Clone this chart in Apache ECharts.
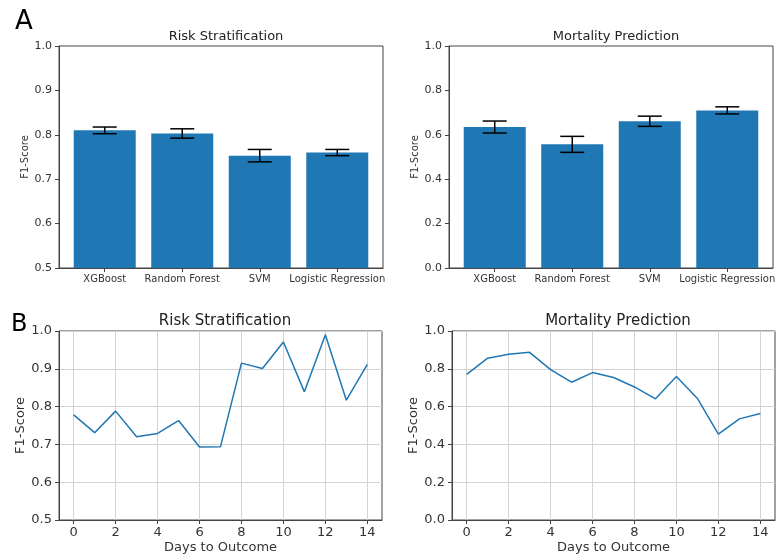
<!DOCTYPE html>
<html><head><meta charset="utf-8">
<script src="https://cdn.jsdelivr.net/npm/echarts@6/dist/echarts.min.js"></script>
<style>html,body{margin:0;padding:0;background:#fff}#c{width:779px;height:556px}</style>
</head><body><div id="c"></div>
<script>
// ---- data ----
const models = ['XGBoost', 'Random Forest', 'SVM', 'Logistic Regression'];
const riskF1 = [0.810, 0.803, 0.753, 0.760];
const riskErr = [0.0075, 0.0105, 0.014, 0.007];
const mortF1 = [0.635, 0.557, 0.661, 0.710];
const mortErr = [0.027, 0.036, 0.023, 0.016];
const days = [0, 1, 2, 3, 4, 5, 6, 7, 8, 9, 10, 11, 12, 13, 14];
const riskDaily = [0.778, 0.731, 0.788, 0.720, 0.729, 0.763, 0.693, 0.694, 0.915, 0.901, 0.971, 0.839, 0.990, 0.817, 0.912];
const mortDaily = [0.771, 0.856, 0.877, 0.887, 0.796, 0.729, 0.780, 0.754, 0.704, 0.641, 0.759, 0.643, 0.454, 0.535, 0.563];
const modelTicks = [0, 1, 2, 3];
const dayTicks = [0, 2, 4, 6, 8, 10, 12, 14];

const FONT = 'DejaVu Sans';
const AX = '#444';
const BLUE = '#1f77b4';

const chart = echarts.init(document.getElementById('c'), null, {renderer: 'canvas'});

const grids = [
  {left: 59, top: 46, width: 324, height: 222},
  {left: 449, top: 46, width: 324, height: 222},
  {left: 59, top: 331, width: 323, height: 189},
  {left: 452, top: 331, width: 323, height: 189}
].map(g => Object.assign({show: true, borderColor: AX, borderWidth: 1, backgroundColor: 'transparent', containLabel: false}, g));

function barX(gi) {
  return {
    gridIndex: gi, type: 'value', min: -0.59, max: 3.59,
    axisLine: {show: true, onZero: false, lineStyle: {color: AX}},
    axisTick: {show: true, length: 4, customValues: modelTicks, lineStyle: {color: AX}},
    axisLabel: {customValues: modelTicks, formatter: v => models[Math.round(v)], fontFamily: FONT, fontSize: 10, color: '#333', margin: 6},
    splitLine: {show: false}
  };
}
function dayX(gi) {
  return {
    gridIndex: gi, type: 'value', min: -0.7, max: 14.7,
    name: 'Days to Outcome', nameLocation: 'middle', nameGap: 21,
    nameTextStyle: {fontFamily: FONT, fontSize: 13, color: '#333'},
    axisLine: {show: true, onZero: false, lineStyle: {color: AX}},
    axisTick: {show: true, length: 4, customValues: dayTicks, lineStyle: {color: AX}},
    axisLabel: {customValues: dayTicks, fontFamily: FONT, fontSize: 13, color: '#333', margin: 6},
    splitLine: {show: true, lineStyle: {color: '#d3d3d3', width: 1}}
  };
}
function yAx(gi, min, max, interval, fs, grid, gap) {
  return {
    gridIndex: gi, type: 'value', min: min, max: max, interval: interval,
    name: 'F1-Score', nameLocation: 'middle', nameGap: gap, nameRotate: 90,
    nameTextStyle: {fontFamily: FONT, fontSize: fs === 11 ? 10 : 13, color: '#333'},
    axisLine: {show: true, onZero: false, lineStyle: {color: AX}},
    axisTick: {show: true, length: 4, lineStyle: {color: AX}},
    axisLabel: {formatter: v => v.toFixed(1), fontFamily: FONT, fontSize: fs, color: '#333', margin: 7},
    splitLine: {show: grid, lineStyle: {color: '#d3d3d3', width: 1}}
  };
}

function errSeries(gi, vals, errs) {
  return {
    type: 'custom', xAxisIndex: gi, yAxisIndex: gi, z: 5,
    data: vals.map((v, i) => [i, v - errs[i], v + errs[i]]),
    encode: {x: 0, y: [1, 2]},
    renderItem: function (params, api) {
      const x = api.value(0), lo = api.value(1), hi = api.value(2);
      const a = api.coord([x, hi]), b = api.coord([x, lo]);
      const hw = 12;
      const st = {stroke: '#000', lineWidth: 1.5};
      return {type: 'group', children: [
        {type: 'line', shape: {x1: a[0], y1: a[1], x2: b[0], y2: b[1]}, style: st},
        {type: 'line', shape: {x1: a[0] - hw, y1: a[1], x2: a[0] + hw, y2: a[1]}, style: st},
        {type: 'line', shape: {x1: b[0] - hw, y1: b[1], x2: b[0] + hw, y2: b[1]}, style: st}
      ]};
    }
  };
}

const titleStyle = (fs) => ({fontFamily: FONT, fontSize: fs, fontWeight: 'normal', color: '#222'});

const option = {
  animation: false,
  backgroundColor: '#fff',
  title: [
    {text: 'Risk Stratification', left: 221, top: 25, textAlign: 'center', textStyle: titleStyle(13)},
    {text: 'Mortality Prediction', left: 611, top: 25, textAlign: 'center', textStyle: titleStyle(13)},
    {text: 'Risk Stratification', left: 220, top: 309, textAlign: 'center', textStyle: titleStyle(15)},
    {text: 'Mortality Prediction', left: 613, top: 309, textAlign: 'center', textStyle: titleStyle(15)}
  ],
  graphic: [
    {type: 'text', left: 15, top: 9, style: {text: 'A', font: '26px "DejaVu Sans"', fill: '#000'}},
    {type: 'text', left: 11, top: 313, style: {text: 'B', font: '24px "DejaVu Sans"', fill: '#000'}}
  ],
  grid: grids,
  xAxis: [barX(0), barX(1), dayX(2), dayX(3)],
  yAxis: [
    yAx(0, 0.5, 1.0, 0.1, 11, false, 28),
    yAx(1, 0, 1.0, 0.2, 11, false, 28),
    yAx(2, 0.5, 1.0, 0.1, 13, true, 29),
    yAx(3, 0, 1.0, 0.2, 13, true, 29)
  ],
  series: [
    {type: 'bar', xAxisIndex: 0, yAxisIndex: 0, barWidth: 62, itemStyle: {color: BLUE}, data: riskF1.map((v, i) => [i, v])},
    {type: 'bar', xAxisIndex: 1, yAxisIndex: 1, barWidth: 62, itemStyle: {color: BLUE}, data: mortF1.map((v, i) => [i, v])},
    errSeries(0, riskF1, riskErr),
    errSeries(1, mortF1, mortErr),
    {type: 'line', xAxisIndex: 2, yAxisIndex: 2, showSymbol: false, symbol: 'none', lineStyle: {color: BLUE, width: 1.5}, data: days.map((d, i) => [d, riskDaily[i]])},
    {type: 'line', xAxisIndex: 3, yAxisIndex: 3, showSymbol: false, symbol: 'none', lineStyle: {color: BLUE, width: 1.5}, data: days.map((d, i) => [d, mortDaily[i]])}
  ]
};
chart.setOption(option);
</script>
</body></html>
